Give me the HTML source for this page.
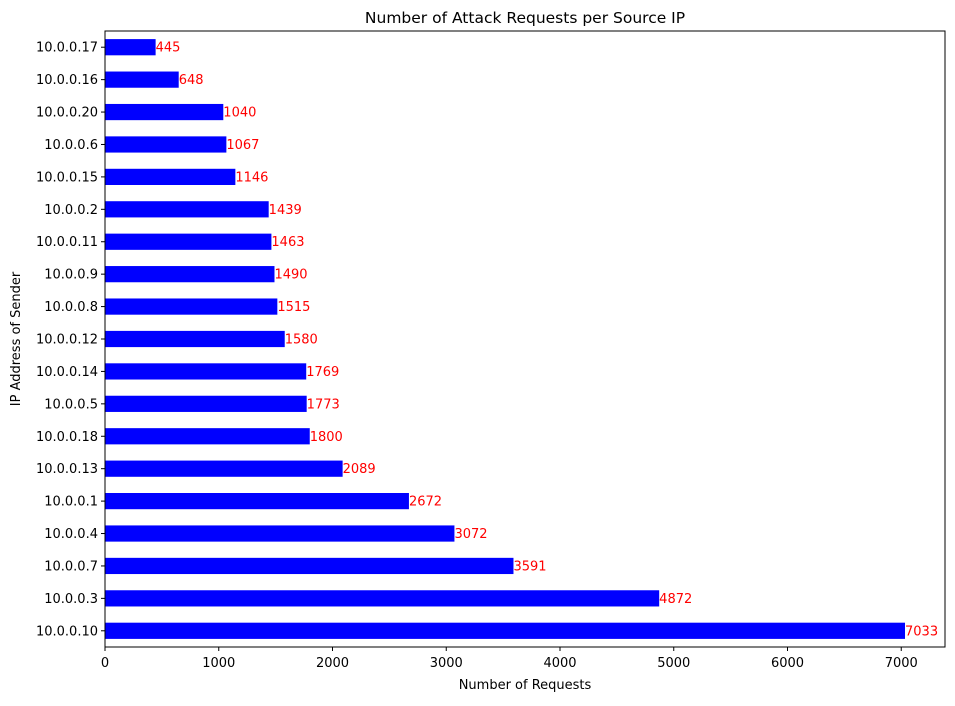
<!DOCTYPE html>
<html><head><meta charset="utf-8"><style>
body{margin:0;background:#fff;}
svg text{font-family:"DejaVu Sans","Liberation Sans",sans-serif;}
</style></head><body>
<svg id="chart" width="955" height="701" xmlns="http://www.w3.org/2000/svg"></svg>
<script>
const categories=["10.0.0.10","10.0.0.3","10.0.0.7","10.0.0.4","10.0.0.1","10.0.0.13","10.0.0.18","10.0.0.5","10.0.0.14","10.0.0.12","10.0.0.8","10.0.0.9","10.0.0.11","10.0.0.2","10.0.0.15","10.0.0.6","10.0.0.20","10.0.0.16","10.0.0.17"];
const values=[7033,4872,3591,3072,2672,2089,1800,1773,1769,1580,1515,1490,1463,1439,1146,1067,1040,648,445];
const xTicks=[0,1000,2000,3000,4000,5000,6000,7000];
const NS="http://www.w3.org/2000/svg";
const svg=document.getElementById('chart');
const L=105,R=945,T=31,B=647;
const xMax=Math.max(...values)*1.05;
const n=categories.length;
const x=v=>L+v/xMax*(R-L);
const y=i=>B-(i+0.5)/n*(B-T);
const band=(B-T)/n;
function mk(tag,attrs,text){const e=document.createElementNS(NS,tag);for(const k in attrs)e.setAttribute(k,attrs[k]);if(text!==undefined)e.textContent=text;svg.appendChild(e);return e;}
values.forEach((v,i)=>{
 const r=mk('rect',{x:x(0),y:y(i)-band*0.25,width:x(v)-x(0),height:band*0.5,fill:'#0000ff'});
 
 
 const t=mk('text',{x:x(v),y:y(i)+4.5,'font-size':13,fill:'red'},String(v));
 
 
 mk('line',{x1:L-4,x2:L,y1:y(i),y2:y(i),stroke:'#000'});
 const yl=mk('text',{x:L-7,y:y(i)+4.5,'font-size':13,'text-anchor':'end',fill:'#000'},categories[i]);
 
 
});
xTicks.forEach(v=>{
 mk('line',{x1:x(v),x2:x(v),y1:B,y2:B+4,stroke:'#000'});
 const t=mk('text',{x:x(v),y:B+20,'font-size':13,'text-anchor':'middle'},String(v));
 
 
});
const f=mk('rect',{x:L,y:T,width:R-L,height:B-T,fill:'none',stroke:'#000','stroke-width':1});


const ti=mk('text',{x:(L+R)/2,y:T-8,'font-size':15.5,'text-anchor':'middle'},'Number of Attack Requests per Source IP');


const xt=mk('text',{x:(L+R)/2,y:689,'font-size':13,'text-anchor':'middle'},'Number of Requests');


const yt=mk('text',{x:20,y:(T+B)/2,'font-size':13,'text-anchor':'middle',transform:'rotate(-90 20 '+((T+B)/2)+')'},'IP Address of Sender');


</script>
</body></html>
